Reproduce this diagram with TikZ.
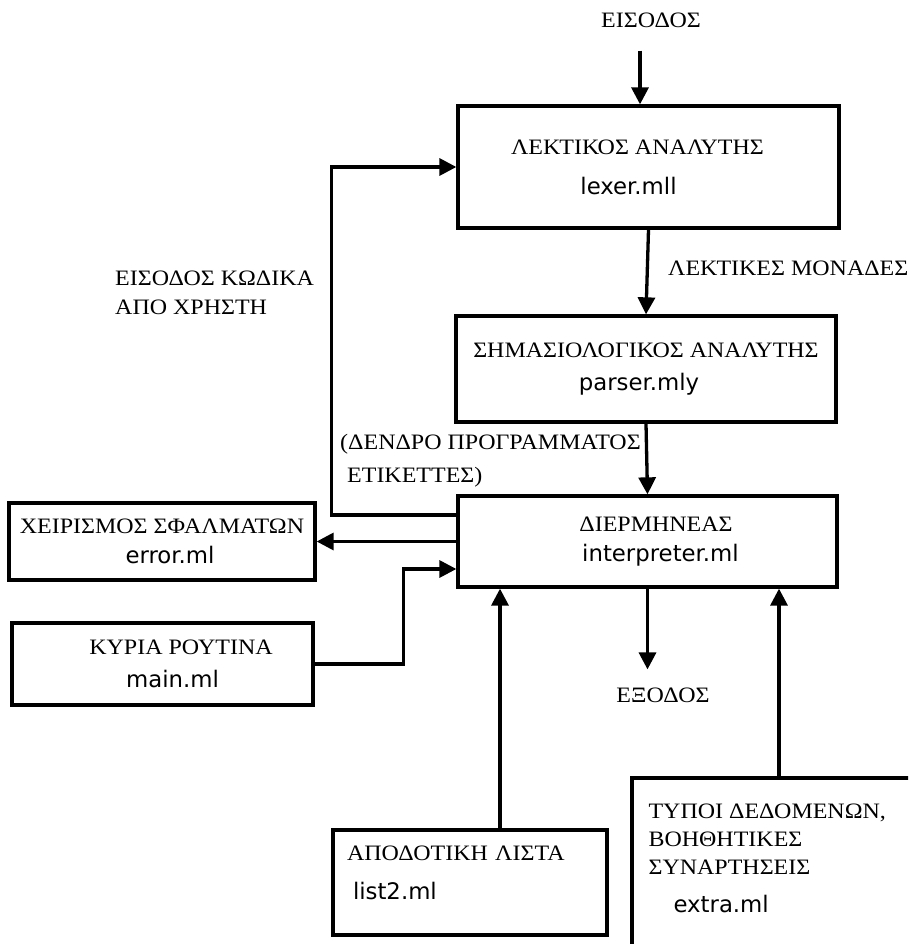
\documentclass[tikz,border=0pt]{standalone}
\usepackage{fontspec}
\setmainfont{Liberation Serif}[FakeStretch=1.09]
\setsansfont{DejaVu Sans}
\usepackage{tikz}
\usetikzlibrary{arrows.meta,positioning}

\newcommand{\fname}[1]{{\sffamily\fontsize{22.8}{27}\selectfont #1}}

\tikzset{
  box/.style={draw, line width=3.3pt, inner sep=0pt, align=center},
  conn/.style={line width=3.3pt, -{Triangle[length=17pt,width=17pt]}},
  lbl/.style={inner sep=0pt, align=left}
}

\begin{document}
\begin{tikzpicture}[x=1pt,y=-1pt,font=\fontsize{22}{27}\selectfont]
\useasboundingbox (0,0) rectangle (908,944);
\clip (0,0) rectangle (908,944);

% the chain of the interpreter
\node[box, minimum width=381pt, minimum height=122pt] (lexer) at (648.5,167)
  {ΛΕΚΤΙΚΟΣ ΑΝΑΛΥΤΗΣ\hspace*{22pt}\\[13pt]\fname{lexer.mll}\hspace*{40pt}};
\node[box, minimum width=380pt, minimum height=106pt] (parser) at (646,369)
  {ΣΗΜΑΣΙΟΛΟΓΙΚΟΣ ΑΝΑΛΥΤΗΣ\\[6pt]\fname{parser.mly}\hspace*{14pt}};
\node[box, minimum width=379pt, minimum height=91pt] (interp) at (647.5,541.5)
  {\hspace*{17pt}ΔΙΕΡΜΗΝΕΑΣ\\[3pt]\hspace*{26pt}\fname{interpreter.ml}};

% modules round it
\node[box, minimum width=306pt, minimum height=77pt] (error) at (162,541.5)
  {ΧΕΙΡΙΣΜΟΣ ΣΦΑΛΜΑΤΩΝ\\[3pt]\hspace*{16pt}\fname{error.ml}};
\node[box, minimum width=301pt, minimum height=82pt] (main) at (162.5,664)
  {\hspace*{37pt}ΚΥΡΙΑ ΡΟΥΤΙΝΑ\\[6pt]\hspace*{20pt}\fname{main.ml}};
\node[box, minimum width=274pt, minimum height=105pt, align=left, text width=246pt] (list) at (470,882.5)
  {ΑΠΟΔΟΤΙΚΗ ΛΙΣΤΑ\\[12pt]\hspace*{6pt}\fname{list2.ml}\\[-8pt]\mbox{}};
\node[box, minimum width=294pt, minimum height=240pt] (extra) at (779,898) {};
\node[lbl, anchor=north west] (extratxt) at ([xshift=18pt,yshift=-27pt]extra.north west)
  {ΤΥΠΟΙ ΔΕΔΟΜΕΝΩΝ,\\[1pt]ΒΟΗΘΗΤΙΚΕΣ\\[1pt]ΣΥΝΑΡΤΗΣΕΙΣ\\[11pt]\hspace*{25pt}\fname{extra.ml}};

% labels
\node[lbl] (in) at (651,20) {ΕΙΣΟΔΟΣ};
\node[lbl] (out) at (663,695) {ΕΞΟΔΟΣ};
\node[lbl, anchor=west] (tokens) at (668,268) {ΛΕΚΤΙΚΕΣ ΜΟΝΑΔΕΣ};
\node[lbl, anchor=north west] (user) at (115,271) {ΕΙΣΟΔΟΣ ΚΩΔΙΚΑ\\[2pt]ΑΠΟ ΧΡΗΣΤΗ};
\node[lbl, anchor=north west] (tree) at (340,434) {(ΔΕΝΔΡΟ ΠΡΟΓΡΑΜΜΑΤΟΣ\\[6pt]\hspace*{7pt}ΕΤΙΚΕΤΤΕΣ)};

% connectors
\coordinate (intip) at ([xshift=-8.5pt]lexer.north);
\draw[conn, shorten <=23pt] (intip |- in.south) -- (intip);
\draw[conn] (lexer.south) -- (parser.north);
\draw[conn] (parser.south) -- (interp.north);
\draw[conn, shorten >=18pt] (interp.south) -- (interp.south |- out.north);
\draw[conn] ([yshift=26.5pt]interp.west) -- ++(-125,0) |- (lexer.west);
\draw[conn] (interp.west) -- (error.east);
\draw[conn] (main.east) -- ++(89,0) |- ([yshift=-27.5pt]interp.west);
\coordinate (listtip) at ([xshift=30pt]list.north);
\draw[conn] (listtip) -- (listtip |- interp.south);
\draw[conn] (extra.north) -- (extra.north |- interp.south);
\end{tikzpicture}
\end{document}
